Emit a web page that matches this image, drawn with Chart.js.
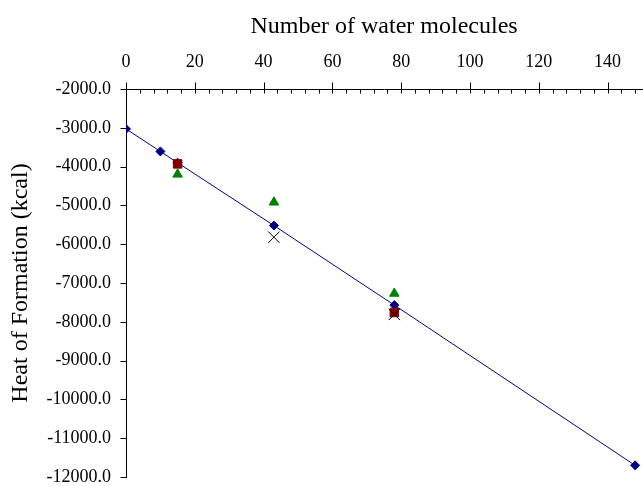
<!DOCTYPE html>
<html>
<head>
<meta charset="utf-8">
<script src="https://cdn.jsdelivr.net/npm/chart.js@4.4.1/dist/chart.umd.min.js"></script>
<style>
  html, body { margin: 0; padding: 0; background: #fff; overflow: hidden; }
  #wrap { width: 651px; height: 486px; }
</style>
</head>
<body>
<div id="wrap"><canvas id="heatChart" width="651" height="486"></canvas></div>
<script>
// values
const waterDiamond = [0, 10, 15, 43, 78, 148];
const heatDiamond = [-3030, -3610, -3900, -5520, -7570, -11700];
const waterSquare = [15, 78];
const heatSquare = [-3930, -7760];
const waterTriangle = [15, 43, 78];
const heatTriangle = [-4200, -4920, -7270];
const waterCross = [43, 78];
const heatCross = [-5820, -7810];

const xTicks = [0, 20, 40, 60, 80, 100, 120, 140];
const yTicks = [-2000, -3000, -4000, -5000, -6000, -7000, -8000, -9000, -10000, -11000, -12000];

const toPoints = (xs, ys) => xs.map((x, i) => ({ x: x, y: ys[i] }));
const serif = 'Liberation Serif, Times New Roman, serif';

// tick marks like the original: major ticks cross the top axis, minor ones hang below
const tickMarks = {
    id: 'tickMarks',
    afterDraw(chart) {
        const ctx = chart.ctx;
        const xs = chart.scales.x;
        const ys = chart.scales.y;
        const area = chart.chartArea;
        const top = Math.round(area.top) + 0.5;
        const left = Math.round(area.left) + 0.5;
        ctx.save();
        ctx.strokeStyle = '#000';
        ctx.lineWidth = 1;
        ctx.beginPath();
        for (let v = 0; v <= xs.max; v += 4) {
            const px = Math.round(xs.getPixelForValue(v)) + 0.5;
            if (v % 20 === 0) {
                ctx.moveTo(px, top - 7);
                ctx.lineTo(px, top + 4);
            } else {
                ctx.moveTo(px, top);
                ctx.lineTo(px, top + 4);
            }
        }
        yTicks.forEach(v => {
            const py = Math.round(ys.getPixelForValue(v)) + 0.5;
            ctx.moveTo(left - 6, py);
            ctx.lineTo(left, py);
        });
        ctx.stroke();
        ctx.restore();
    }
};

const ctx = document.getElementById('heatChart').getContext('2d');
new Chart(ctx, {
    type: 'scatter',
    data: {
        datasets: [
            {
                label: 'cross',
                data: toPoints(waterCross, heatCross),
                pointStyle: 'crossRot',
                pointRadius: 8,
                pointBorderColor: '#000000',
                pointBorderWidth: 1,
                showLine: false
            },
            {
                label: 'square',
                data: toPoints(waterSquare, heatSquare),
                pointStyle: 'rect',
                pointRadius: 6,
                pointBackgroundColor: '#800000',
                pointBorderColor: '#800000',
                showLine: false
            },
            {
                label: 'triangle',
                data: toPoints(waterTriangle, heatTriangle),
                pointStyle: 'triangle',
                pointRadius: 5.5,
                pointBackgroundColor: '#008000',
                pointBorderColor: '#008000',
                showLine: false
            },
            {
                label: 'diamond',
                data: toPoints(waterDiamond, heatDiamond),
                pointStyle: 'rectRot',
                pointRadius: 4.5,
                pointBackgroundColor: '#000080',
                pointBorderColor: '#000080',
                borderColor: '#000080',
                borderWidth: 1,
                showLine: true,
                tension: 0
            }
        ]
    },
    options: {
        responsive: false,
        animation: false,
        layout: { padding: { top: 0, left: 0, right: 6, bottom: 6 } },
        scales: {
            x: {
                type: 'linear',
                position: 'top',
                min: 0,
                max: 150,
                afterBuildTicks: scale => { scale.ticks = xTicks.map(v => ({ value: v })); },
                afterFit: scale => {
                    scale.height = 89;
                    scale.paddingLeft = 0;
                    scale.paddingRight = 0;
                },
                grid: { display: false, drawTicks: false },
                border: { display: true, color: '#000', width: 1 },
                ticks: {
                    padding: 16,
                    color: '#000',
                    maxRotation: 0,
                    font: { family: serif, size: 18 }
                },
                title: {
                    display: true,
                    text: 'Number of water molecules',
                    color: '#000',
                    padding: { top: 12, bottom: 0 },
                    font: { family: serif, size: 24 }
                }
            },
            y: {
                type: 'linear',
                min: -12000,
                max: -2000,
                afterBuildTicks: scale => { scale.ticks = yTicks.map(v => ({ value: v })); },
                afterFit: scale => {
                    scale.width = 126;
                    scale.paddingTop = 0;
                    scale.paddingBottom = 0;
                },
                grid: { display: false, drawTicks: false },
                border: { display: true, color: '#000', width: 1 },
                ticks: {
                    padding: 15,
                    color: '#000',
                    font: { family: serif, size: 18 },
                    callback: v => v.toFixed(1)
                },
                title: {
                    display: true,
                    text: 'Heat of Formation (kcal)',
                    color: '#000',
                    padding: { top: 6, bottom: 0 },
                    font: { family: serif, size: 24 }
                }
            }
        },
        plugins: {
            legend: { display: false },
            tooltip: { enabled: false }
        }
    },
    plugins: [tickMarks]
});
</script>
</body>
</html>
